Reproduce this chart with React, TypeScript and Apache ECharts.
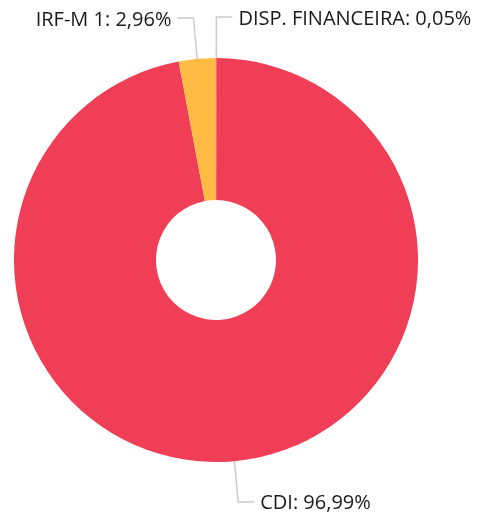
import React, { useEffect, useRef } from "react";
import * as echarts from "echarts";

const categories = ["DISP. FINANCEIRA", "CDI", "IRF-M 1"];
const values = [0.05, 96.99, 2.96];
const colors = ["#ef3e55", "#ef3e55", "#ffbb44"];

const fmt = (v: number) => v.toFixed(2).replace(".", ",");

export default function App() {
  const ref = useRef<HTMLDivElement>(null);
  useEffect(() => {
    if (!ref.current) return;
    const chart = echarts.init(ref.current, null, { renderer: "svg" });
    chart.setOption({
      animation: false,
      series: [
        {
          type: "pie",
          center: [216, 260],
          radius: [60, 202],
          startAngle: 90,
          clockwise: true,
          avoidLabelOverlap: false,
          minShowLabelAngle: 0,
          data: categories.map((name, i) => ({
            name,
            value: values[i],
            itemStyle: { color: colors[i] },
          })),
          label: {
            show: true,
            formatter: (p: any) => `${p.name}: ${fmt(p.value)}%`,
            fontFamily: "Open Sans",
            fontSize: 20,
            color: "#1a1a1a",
            overflow: "none",
            distanceToLabelLine: 6,
          },
          labelLine: {
            show: true,
            length: 41,
            length2: 16,
            lineStyle: { color: "#cccccc", width: 1.5 },
          },
          emphasis: { disabled: true },
        },
      ],
    });
    return () => chart.dispose();
  }, []);
  return (
    <div
      ref={ref}
      style={{ position: "fixed", left: 0, top: 0, width: 477, height: 515 }}
    />
  );
}
